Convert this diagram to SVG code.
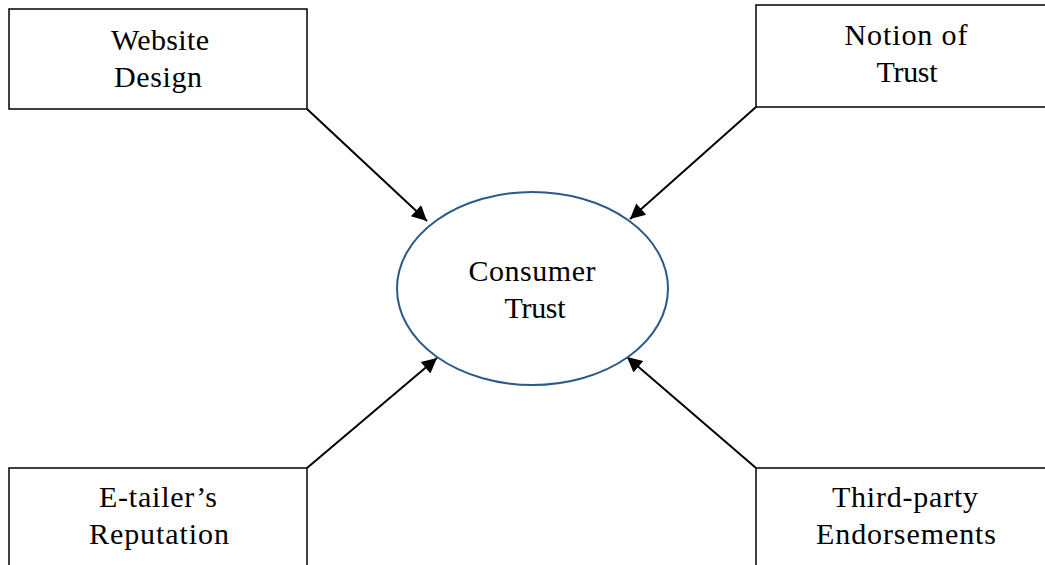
<svg xmlns="http://www.w3.org/2000/svg" width="1045" height="565" viewBox="0 0 1045 565">
<style>
.box{fill:#fff;stroke:#000;stroke-width:1.5}
.lbl{font-family:"Liberation Serif","Times New Roman",serif;font-size:30px;fill:#000;text-anchor:middle}
.conn{stroke:#000;stroke-width:2;fill:none}
</style>
<defs>
<marker id="ah" viewBox="0 0 10 10" refX="10" refY="5" markerWidth="8.5" markerHeight="7.5" markerUnits="strokeWidth" orient="auto">
<path d="M0,0 L10,5 L0,10 z" fill="#000"/>
</marker>
</defs>
<rect width="1045" height="565" fill="#fff"/>
<g id="connectors">
<line class="conn" x1="307" y1="109" x2="427" y2="221" marker-end="url(#ah)"/>
<line class="conn" x1="756" y1="107" x2="630" y2="219" marker-end="url(#ah)"/>
<line class="conn" x1="307" y1="468" x2="437" y2="358" marker-end="url(#ah)"/>
<line class="conn" x1="756" y1="468" x2="627" y2="357" marker-end="url(#ah)"/>
</g>
<g id="website-design">
<rect class="box" x="9" y="9" width="298" height="100"/>
<text class="lbl" x="160" y="50" textLength="98">Website</text>
<text class="lbl" x="158" y="87" textLength="88">Design</text>
</g>
<g id="notion-of-trust">
<rect class="box" x="756" y="5" width="300" height="102"/>
<text class="lbl" x="906" y="45" textLength="123">Notion of</text>
<text class="lbl" x="907" y="82" textLength="61">Trust</text>
</g>
<g id="etailer-reputation">
<rect class="box" x="9" y="468" width="298" height="110"/>
<text class="lbl" x="158" y="507" textLength="118">E-tailer’s</text>
<text class="lbl" x="159" y="544" textLength="140">Reputation</text>
</g>
<g id="third-party-endorsements">
<rect class="box" x="756" y="468" width="300" height="110"/>
<text class="lbl" x="905" y="507" textLength="146">Third-party</text>
<text class="lbl" x="906" y="544" textLength="180">Endorsements</text>
</g>
<g id="consumer-trust">
<ellipse cx="532.5" cy="288.5" rx="135.5" ry="96.5" fill="#fff" stroke="#2b5a87" stroke-width="2"/>
<text class="lbl" x="532" y="281" textLength="127">Consumer</text>
<text class="lbl" x="535" y="318" textLength="61">Trust</text>
</g>
</svg>
